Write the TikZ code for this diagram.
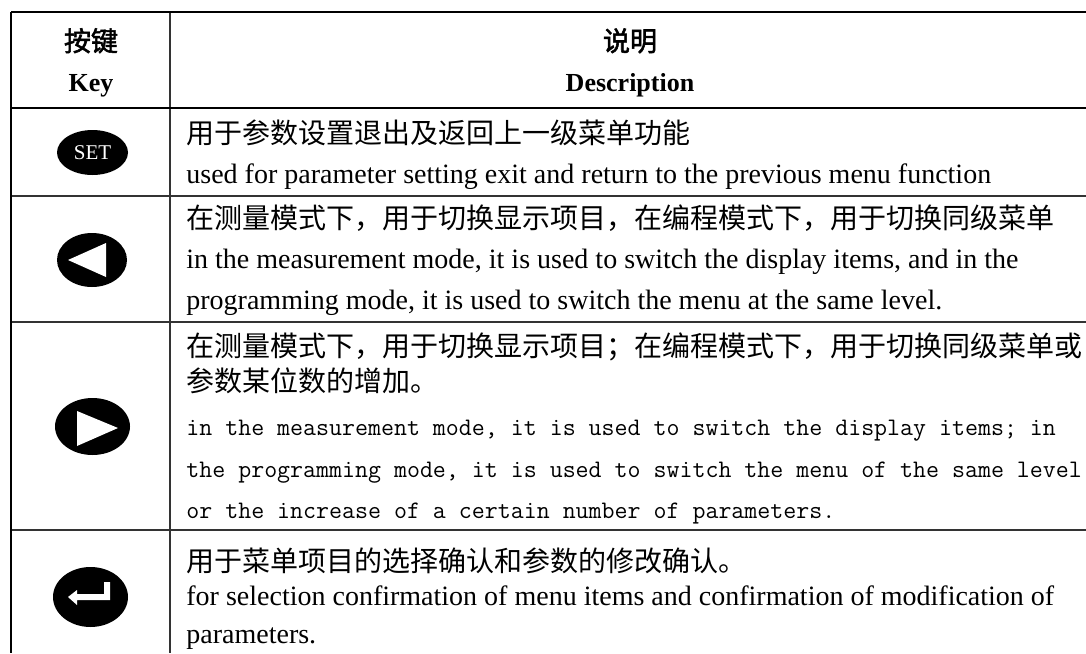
\documentclass[tikz,border=0pt]{standalone}
\usepackage{fontspec}
\setmainfont{Liberation Serif}
\newfontfamily\cjk{Noto Sans CJK SC}
\newfontfamily\cjkbold{Noto Sans CJK SC}[FakeBold=2]

\begin{document}
\begin{tikzpicture}[x=0.5pt, y=-0.5pt,
    rule/.style={line width=0.65pt, draw=black!80},
    heavy/.style={line width=1.25pt},
    zh/.style={anchor=base west, inner sep=0pt, font=\cjk\fontsize{14pt}{16pt}\selectfont},
    en/.style={anchor=base west, inner sep=0pt, font=\fontsize{14pt}{16pt}\selectfont},
    mono/.style={anchor=base west, inner sep=0pt, font=\ttfamily\fontsize{12.6pt}{14pt}\selectfont},
    headzh/.style={anchor=base, inner sep=0pt, font=\cjkbold\fontsize{13.5pt}{16pt}\selectfont},
    heden/.style={anchor=base, inner sep=0pt, font=\bfseries\fontsize{13pt}{15pt}\selectfont}]
    \useasboundingbox (0,0) rectangle (1086,653);

    \coordinate (A) at (11,12);
    \coordinate (B) at (1086,12);
    \coordinate (C) at (11,653);
    \coordinate (D) at (170,12);
    \coordinate (E) at (170,653);

    \draw[rule] (D) -- (E);
    \draw[rule] (11,196) -- (1086,196);
    \draw[rule] (11,322) -- (1086,322);
    \draw[rule] (11,530) -- (1086,530);
    \draw[heavy] (11,108) -- (1086,108);
    \draw[heavy] (A) -- (B);
    \draw[heavy] (A) -- (C);

    \node[headzh] (K1) at (91,51) {按键};
    \node[heden] (K2) at (91,91) {Key};
    \node[headzh] (H1) at (630,51) {说明};
    \node[heden] (H2) at (630,91) {Description};

    \coordinate (S) at (92.5,152.5);
    \fill (S) ellipse [x radius=35.5, y radius=22.5];
    \node[white, inner sep=0pt, font=\fontsize{10.5pt}{12pt}\selectfont] (set) at (S) {SET};
    \node[zh] (a1) at (186,143) {用于参数设置退出及返回上一级菜单功能};
    \node[en] (a2) at (186,183) {used for parameter setting exit and return to the previous menu function};

    \coordinate (L) at (92,260);
    \fill (L) ellipse [x radius=35, y radius=27];
    \fill[white] (68,260) -- (106,243) -- (106,277) -- cycle;
    \node[zh] (b1) at (186,228) {在测量模式下，用于切换显示项目，在编程模式下，用于切换同级菜单};
    \node[en] (b2) at (186,268) {in the measurement mode, it is used to switch the display items, and in the};
    \node[en] (b3) at (186,309) {programming mode, it is used to switch the menu at the same level.};

    \coordinate (R) at (92.5,426.5);
    \fill (R) ellipse [x radius=37.5, y radius=28.5];
    \fill[white] (77,411) -- (118,428) -- (77,446) -- cycle;
    \node[zh] (c1) at (186,356) {在测量模式下，用于切换显示项目；在编程模式下，用于切换同级菜单或};
    \node[zh] (c2) at (186,391) {参数某位数的增加。};
    \node[mono] (c3) at (186,435) {in the measurement mode, it is used to switch the display items; in};
    \node[mono] (c4) at (186,477) {the programming mode, it is used to switch the menu of the same level};
    \node[mono] (c5) at (186,518) {or the increase of a certain number of parameters.};

    \coordinate (N) at (90.5,597);
    \fill (N) ellipse [x radius=37.5, y radius=30];
    \fill[white] (104,582) -- (110,582) -- (110,600) -- (77,600) -- (77,605) -- (68,597)
        -- (77,590) -- (77,594) -- (104,594) -- cycle;
    \node[zh] (d1) at (186,571) {用于菜单项目的选择确认和参数的修改确认。};
    \node[en] (d2) at (186,605) {for selection confirmation of menu items and confirmation of modification of};
    \node[en] (d3) at (186,643) {parameters.};
\end{tikzpicture}
\end{document}
